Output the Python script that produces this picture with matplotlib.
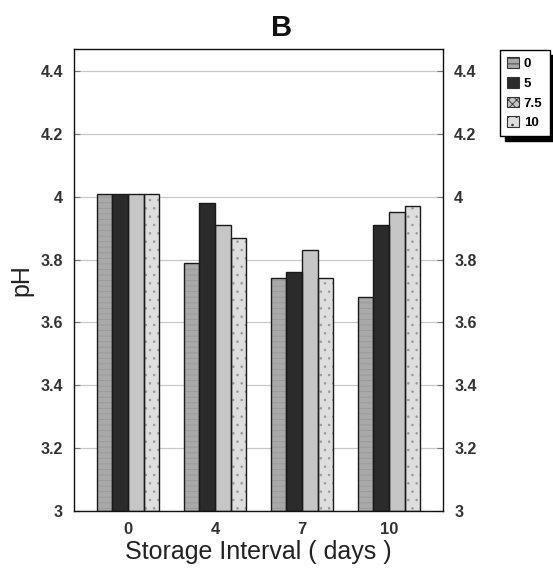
import numpy as np
import matplotlib.pyplot as plt
from matplotlib.patches import Patch

plt.rcParams['font.family'] = ['Liberation Sans', 'DejaVu Sans']
plt.rcParams['hatch.linewidth'] = 0.6

# pH over storage time, one series per treatment level
days = ['0', '4', '7', '10']
levels = ['0', '5', '7.5', '10']
ph_0 = [4.01, 3.79, 3.74, 3.68]
ph_5 = [4.01, 3.98, 3.76, 3.91]
ph_75 = [4.01, 3.91, 3.83, 3.95]
ph_10 = [4.01, 3.87, 3.74, 3.97]
yticks = [3.0, 3.2, 3.4, 3.6, 3.8, 4.0, 4.2, 4.4]
ytick_labels = ['3', '3.2', '3.4', '3.6', '3.8', '4', '4.2', '4.4']

series = [ph_0, ph_5, ph_75, ph_10]
fills = ['#a9a9a9', '#2b2b2b', '#c6c6c6', '#dedede']
hatches = ['---', None, None, '..']
hatch_cols = ['#999999', '#2b2b2b', '#c6c6c6', '#9a9a9a']
legend_hatch = ['---', None, 'xxxx', '..']

fig = plt.figure(figsize=(5.53, 5.79), dpi=100)
ax = fig.add_axes([74 / 553, 68 / 579, 369 / 553, 462 / 579])

x = np.arange(len(days))
w = 0.18
for i, vals in enumerate(series):
    pos = x + (i - 1.5) * w
    # fill + texture first, then the dark outline on top
    ax.bar(pos, np.array(vals) - 3.0, w, bottom=3.0, color=fills[i],
           hatch=hatches[i], edgecolor=hatch_cols[i], linewidth=0, zorder=2)
    ax.bar(pos, np.array(vals) - 3.0, w, bottom=3.0, fill=False,
           edgecolor='#1a1a1a', linewidth=1.0, zorder=3)

ax.set_xlim(-0.62, 3.62)
ax.set_ylim(3.0, 4.47)
ax.set_yticks(yticks)
ax.set_yticklabels(ytick_labels)
ax.set_xticks(x)
ax.set_xticklabels(days)
ax.yaxis.grid(True, color='#c8c8c8', linewidth=0.9, zorder=0)
ax.set_axisbelow(True)

ax.tick_params(axis='y', direction='in', length=4, width=0.8, color='#777777',
               left=True, right=True, labelleft=True, labelright=True,
               labelsize=11.5, pad=8)
ax.tick_params(axis='x', length=0, labelsize=12, pad=8)
for lab in ax.get_yticklabels() + ax.get_xticklabels():
    lab.set_fontweight('bold')
    lab.set_color('#333333')
for sp in ax.spines.values():
    sp.set_linewidth(1.0)
    sp.set_color('#111111')

ax.set_xlabel('Storage Interval ( days )', fontsize=18, labelpad=2, color='#222222')
ax.set_ylabel('pH', fontsize=18, labelpad=5, color='#222222')

fig.text(282 / 553, 1 - 28 / 579, 'B', fontsize=21, fontweight='bold',
         ha='center', va='center', color='#111111')

handles = [Patch(facecolor=fills[i], edgecolor='#333333', hatch=legend_hatch[i],
                 linewidth=0.8) for i in range(len(levels))]
leg = fig.legend(handles, levels, loc='upper left',
                 bbox_to_anchor=(500 / 553, 1 - 50 / 579),
                 frameon=True, fancybox=False, edgecolor='black',
                 shadow={'color': 'black', 'alpha': 1, 'ox': 3.5, 'oy': -3.5},
                 handlelength=0.9, handleheight=0.9, handletextpad=0.35,
                 labelspacing=0.5, borderpad=0.55, borderaxespad=0,
                 prop={'size': 9.5, 'weight': 'bold'})
leg.get_frame().set_linewidth(1.0)

fig.savefig('out.png', dpi=100)
